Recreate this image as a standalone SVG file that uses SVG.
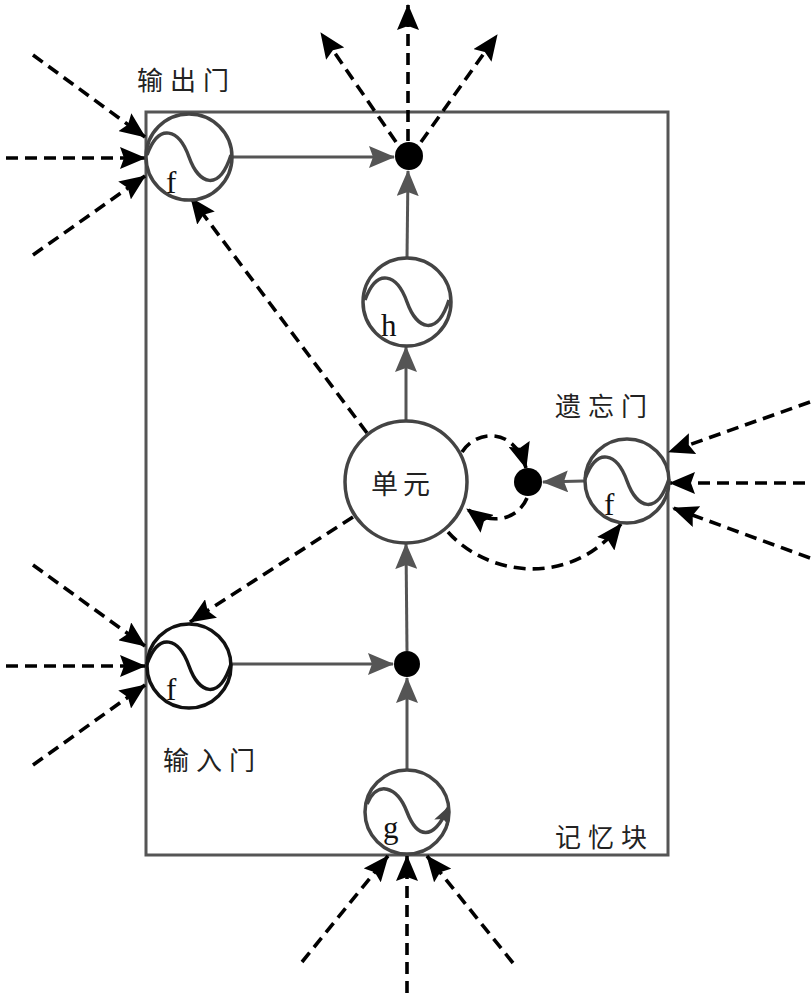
<svg xmlns="http://www.w3.org/2000/svg" xmlns:xlink="http://www.w3.org/1999/xlink" width="812" height="1000" viewBox="0 0 812 1000">
<style>
.box{fill:none;stroke:#555;stroke-width:3}
.node{fill:#fff;stroke:#444;stroke-width:3.5}
.node.dark{stroke:#111}
.sine{fill:none;stroke:#444;stroke-width:3.5}
.sine.dark{stroke:#111}
.dot{fill:#000}
.solid{fill:none;stroke:#555;stroke-width:3;marker-end:url(#ag)}
.dash{fill:none;stroke:#000;stroke-width:3.6;stroke-dasharray:12 7;marker-end:url(#ab)}
.cjk{font-family:"Noto Sans CJK SC","Noto Sans CJK JP",sans-serif;font-size:26px;fill:#222;letter-spacing:7px}
.lat{font-family:"Liberation Serif",serif;font-size:31px;fill:#111}
</style>
<defs>
<marker id="ab" markerUnits="userSpaceOnUse" viewBox="0 0 26 22" markerWidth="26" markerHeight="22" refX="25" refY="11" orient="auto">
<path d="M0,0 L26,11 L0,22 L4,11 z" fill="#000"/>
</marker>
<marker id="ag" markerUnits="userSpaceOnUse" viewBox="0 0 26 22" markerWidth="26" markerHeight="22" refX="25" refY="11" orient="auto">
<path d="M0,0 L26,11 L0,22 L4,11 z" fill="#555"/>
</marker>
<marker id="as" markerUnits="userSpaceOnUse" viewBox="0 0 18 16" markerWidth="18" markerHeight="16" refX="16" refY="8" orient="auto">
<path d="M0,0 L18,8 L0,16 L4,8 z" fill="#444"/>
</marker>
<path id="sinepath" d="M-42,-2 C-30,-35 -10,-28 0,0 S30,35 42,-2"/>
</defs>

<rect class="box" x="146" y="112" width="522" height="743"/>

<g id="connectors">
<line class="solid" x1="232" y1="157" x2="394" y2="157"/>
<line class="solid" x1="407" y1="258" x2="408" y2="171"/>
<line class="solid" x1="406" y1="421" x2="406" y2="347"/>
<line class="solid" x1="407" y1="651" x2="406" y2="544"/>
<line class="solid" x1="407" y1="770" x2="407" y2="678"/>
<line class="solid" x1="231" y1="664" x2="393" y2="664"/>
<line class="solid" x1="584" y1="481" x2="543" y2="482"/>
<line class="dash" x1="367" y1="433" x2="191" y2="198"/>
<line class="dash" x1="353" y1="517" x2="190" y2="622"/>
<path class="dash" d="M462,452 C476,430 514,426 526,468"/>
<path class="dash" d="M527,498 C518,520 490,526 467,509"/>
<path class="dash" d="M448,532 C486,575 570,590 621,524"/>
<line class="dash" x1="396" y1="142" x2="321" y2="33"/>
<line class="dash" x1="408" y1="141" x2="408" y2="5"/>
<line class="dash" x1="421" y1="142" x2="497" y2="35"/>
<line class="dash" x1="33" y1="55" x2="145" y2="137"/>
<line class="dash" x1="6" y1="158" x2="145" y2="158"/>
<line class="dash" x1="33" y1="255" x2="145" y2="176"/>
<line class="dash" x1="33" y1="565" x2="145" y2="646"/>
<line class="dash" x1="6" y1="666" x2="145" y2="666"/>
<line class="dash" x1="33" y1="765" x2="145" y2="685"/>
<line class="dash" x1="810" y1="402" x2="669" y2="452"/>
<line class="dash" x1="805" y1="483" x2="670" y2="483"/>
<line class="dash" x1="810" y1="558" x2="673" y2="508"/>
<line class="dash" x1="302" y1="962" x2="388" y2="856"/>
<line class="dash" x1="407" y1="993" x2="407" y2="856"/>
<line class="dash" x1="513" y1="963" x2="427" y2="856"/>
</g>

<g id="output-gate">
<circle class="node" cx="189" cy="157" r="43"/>
<use xlink:href="#sinepath" class="sine" transform="translate(189,157)"/>
<text class="lat" x="166" y="193">f</text>
</g>
<text class="cjk" x="137" y="90">输出门</text>

<g id="output-dot"><circle class="dot" cx="409" cy="156" r="14"/></g>

<g id="h-node">
<circle class="node" cx="407" cy="302" r="44"/>
<use xlink:href="#sinepath" class="sine" transform="translate(407,302)"/>
<text class="lat" x="381" y="336">h</text>
</g>

<g id="cell">
<circle class="node" cx="406" cy="482" r="61"/>
<text class="cjk" x="371" y="494" style="font-size:27px;letter-spacing:5px">单元</text>
</g>

<g id="forget-dot"><circle class="dot" cx="528" cy="482" r="14"/></g>

<g id="forget-gate">
<circle class="node" cx="627" cy="481" r="42"/>
<use xlink:href="#sinepath" class="sine" transform="translate(627,481)"/>
<text class="lat" x="604" y="515">f</text>
</g>
<text class="cjk" x="555" y="416">遗忘门</text>

<g id="input-gate">
<circle class="node dark" cx="189" cy="666" r="42"/>
<use xlink:href="#sinepath" class="sine dark" transform="translate(189,666)"/>
<text class="lat" x="166" y="700">f</text>
</g>
<text class="cjk" x="163" y="770">输入门</text>

<g id="input-dot"><circle class="dot" cx="407" cy="664" r="13"/></g>

<g id="g-node">
<circle class="node" cx="407" cy="812" r="42"/>
<path class="sine" d="M-40,-8 C-30,-32 -10,-26 0,0 S26,30 41,-4" transform="translate(407,812)" marker-end="url(#as)"/>
<text class="lat" x="383" y="838">g</text>
</g>
<text class="cjk" x="555" y="847">记忆块</text>
</svg>
